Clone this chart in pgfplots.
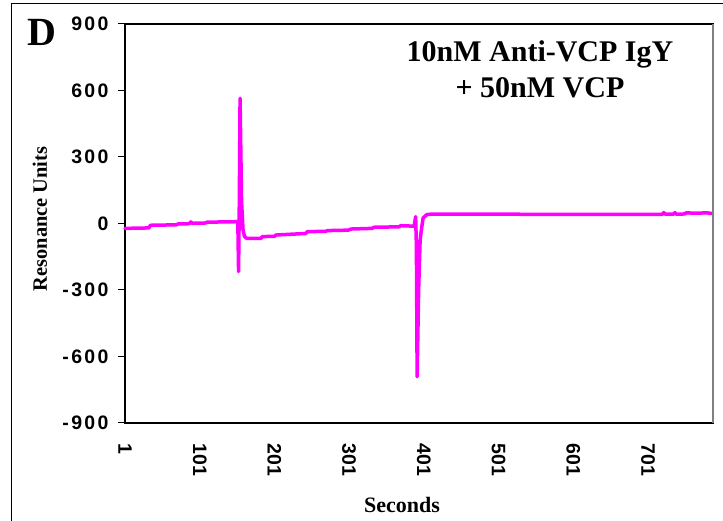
\documentclass[border=0pt]{standalone}
\usepackage{pgfplots}
\pgfplotsset{compat=1.18}
\usepackage{fontspec}
\newfontfamily\ticksf[LetterSpace=12]{Liberation Sans}
\newfontfamily\ticksfx{Liberation Sans}
\newfontfamily\timesf{Liberation Serif}
\definecolor{mag}{RGB}{255,0,255}
\begin{document}
\begin{tikzpicture}[x=1pt,y=1pt]
\useasboundingbox (0,0) rectangle (723,521);
\draw[line width=1.2pt] (11.5,0) -- (11.5,517.5) -- (723,517.5);
\begin{axis}[
  at={(125pt,98pt)}, anchor=south west,
  scale only axis, width=588pt, height=399pt,
  xmin=1, xmax=788, ymin=-900, ymax=900,
  axis line style={line width=1.1pt},
  xtick={1,101,201,301,401,501,601,701},
  xticklabels={1,101,201,301,401,501,601,701},
  ytick={-900,-600,-300,0,300,600,900},
  yticklabels={-900,-600,-300,0,300,600,900},
  tick pos=left, tick align=outside,
  x tick style={draw=none},
  y tick style={line width=1pt, black},
  major tick length=7pt,
  yticklabel style={font=\fontsize{19.5}{19.5}\selectfont\ticksf\bfseries, anchor=east, xshift=-6pt},
  xticklabel style={font=\fontsize{19.5}{19.5}\selectfont\ticksfx\bfseries, rotate=-90, anchor=west, xshift=10pt},
  clip=false,
]
\addplot[mag, line width=3.5pt, line join=round, line cap=round] coordinates {
(1,-22) (33,-20) (35,-8) (70,-6) (72,-2) (87,-1) (89,7) (91,1) (108,2) (111,6)
(150,8) (152,8) (153,-217) (154,100) (155,565) (157,100) (159,-30) (161,-59) (164,-67)
(183,-67) (185,-59) (201,-58) (203,-52) (243,-45) (245,-37) (270,-35) (272,-32)
(300,-30) (303,-25) (332,-22) (334,-17) (368,-15) (370,-10) (388,-12)
(390,31) (391,-100) (392,-691) (394,-300) (396,-74) (398,-20) (400,25) (405,40) (410,42)
(500,42) (600,41) (720,41) (722,49) (724,42) (735,42) (737,49) (739,42)
(750,43) (752,48) (760,47) (770,47) (780,48) (787,45)
};
\end{axis}
\draw[gray, line width=1.1pt] (713,98) -- (713,497);
\node[font=\fontsize{40}{40}\selectfont\timesf\bfseries] at (42,489) {D};
\node[font=\fontsize{30}{36}\selectfont\timesf\bfseries, align=center] at (540,452) {10nM Anti-VCP IgY\\+ 50nM VCP};
\node[font=\fontsize{20.4}{20.4}\selectfont\timesf\bfseries, rotate=90] at (40,302) {Resonance Units};
\node[font=\fontsize{22}{22}\selectfont\timesf\bfseries] at (402,16) {Seconds};
\end{tikzpicture}
\end{document}
